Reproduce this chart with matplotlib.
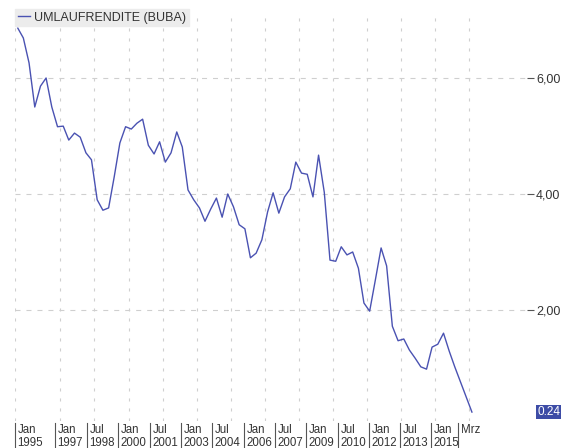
import matplotlib
matplotlib.use("Agg")
import matplotlib.pyplot as plt
import matplotlib.transforms as mtransforms
import pandas as pd
from datetime import datetime

plt.rcParams['font.family'] = ['Liberation Sans', 'DejaVu Sans']
plt.rcParams['lines.scale_dashes'] = False

# ---------------- data ----------------
series_name = "UMLAUFRENDITE (BUBA)"
start_month = "1995-02-15"
values = [6.86, 6.69, 6.26, 5.50, 5.86, 6.00, 5.50, 5.16, 5.17, 4.93,
          5.05, 4.98, 4.71, 4.59, 3.90, 3.72, 3.76, 4.29, 4.88, 5.16,
          5.12, 5.22, 5.29, 4.84, 4.69, 4.90, 4.55, 4.71, 5.07, 4.81,
          4.07, 3.90, 3.76, 3.53, 3.74, 3.93, 3.60, 4.00, 3.78, 3.47,
          3.40, 2.90, 2.98, 3.21, 3.69, 4.02, 3.67, 3.95, 4.09, 4.55,
          4.36, 4.34, 3.95, 4.67, 4.03, 2.86, 2.84, 3.09, 2.95, 3.00,
          2.72, 2.12, 1.98, 2.52, 3.07, 2.76, 1.72, 1.47, 1.50, 1.31,
          1.17, 1.02, 0.98, 1.36, 1.41, 1.60, 1.29, 1.02, 0.76, 0.50,
          0.24]
dates = pd.date_range(start_month, periods=len(values), freq=pd.DateOffset(months=3))

grid_dates = ["1995-01-01", "1997-01-01", "1998-07-01", "2000-01-01", "2001-07-01",
              "2003-01-01", "2004-07-01", "2006-01-01", "2007-07-01", "2009-01-01",
              "2010-07-01", "2012-01-01", "2013-07-01", "2015-01-01"]
x_labels = ["Jan\n1995", "Jan\n1997", "Jul\n1998", "Jan\n2000", "Jul\n2001",
            "Jan\n2003", "Jul\n2004", "Jan\n2006", "Jul\n2007", "Jan\n2009",
            "Jul\n2010", "Jan\n2012", "Jul\n2013", "Jan\n2015", "Mrz"]
y_ticks = [2, 4, 6]
y_labels = ["2,00", "4,00", "6,00"]
last_label = "0.24"

# ---------------- layout ----------------
W, H = 566, 448
fig = plt.figure(figsize=(W / 100, H / 100), dpi=100)
ax_l, ax_r, ax_t, ax_b = 15, 527, 12, 421
ax = fig.add_axes([ax_l / W, 1 - ax_b / H, (ax_r - ax_l) / W, (ax_b - ax_t) / H])

line_color = "#4a52b2"
grid_color = "#cfcfcf"
text_color = "#333333"

ax.plot(dates, values, color=line_color, lw=1.0, label=series_name, zorder=3)

ax.set_xlim(datetime(1995, 1, 1), datetime(2017, 7, 20))
ax.set_ylim(0.086, 7.138)

for s in ax.spines.values():
    s.set_visible(False)

ax.set_xticks(pd.to_datetime(grid_dates))
ax.tick_params(axis='x', length=0, labelbottom=False)
ax.yaxis.tick_right()
ax.set_yticks(y_ticks)
ax.set_yticklabels(y_labels)
ax.tick_params(axis='y', length=5, width=0.8, color="#555555", pad=1.5,
               labelsize=9, labelcolor=text_color)

for yv in y_ticks:
    ax.axhline(yv, color=grid_color, lw=0.8, linestyle=(0, (3.6, 4.3)), zorder=1)
for gd in pd.to_datetime(grid_dates):
    ax.axvline(gd, color=grid_color, lw=0.8, linestyle=(0, (2.2, 5.0)), zorder=1)

# bottom labels, laid out as in the reference (bar + two-line text)
label_px = [15, 55, 87, 118, 150, 181, 212, 244, 275, 306, 338, 369, 400, 431, 458]
for px, lab in zip(label_px, x_labels):
    fig.add_artist(plt.Line2D([px / W, px / W], [1 - 423 / H, 0], transform=fig.transFigure,
                              color="#555555", lw=0.8))
    fig.text((px + 2.5) / W, 1 - 424 / H, lab, ha='left', va='top', fontsize=8.3,
             color=text_color, linespacing=1.1)

# last value box
trans = mtransforms.blended_transform_factory(ax.transAxes, ax.transData)
ax.text((537 - ax_l) / (ax_r - ax_l), values[-1], last_label, transform=trans,
        ha='left', va='center', fontsize=8.5, color='white', clip_on=False,
        bbox=dict(facecolor="#3d4ca6", edgecolor='none', boxstyle='square,pad=0.12'))

leg = ax.legend(loc='upper left', bbox_to_anchor=(15 / W, 1 - 9 / H),
                bbox_transform=fig.transFigure, frameon=True, fancybox=False,
                facecolor="#ececec", edgecolor="#ececec", framealpha=1,
                fontsize=9, borderaxespad=0, borderpad=0.2, handlelength=1.0,
                handletextpad=0.35)
for t in leg.get_texts():
    t.set_color(text_color)

fig.savefig("out.png", dpi=100)
